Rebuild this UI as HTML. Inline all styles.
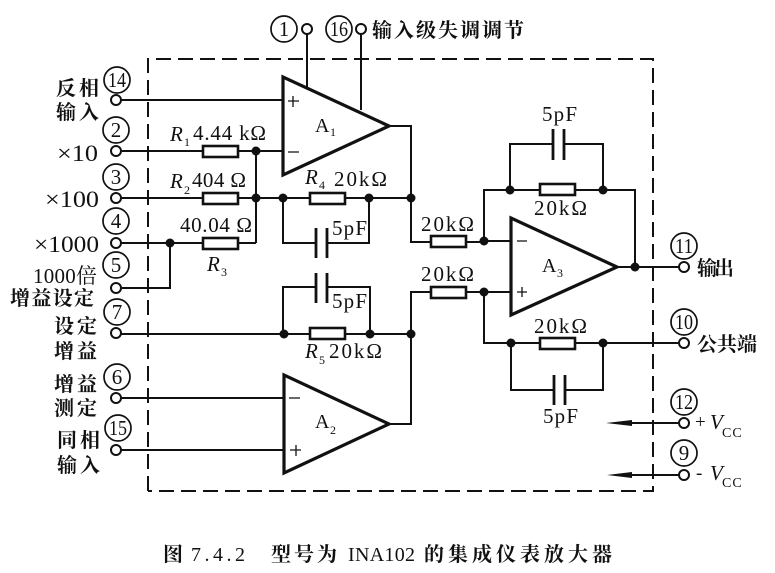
<!DOCTYPE html>
<html><head><meta charset="utf-8">
<style>
html,body{margin:0;padding:0;background:#fff;width:775px;height:573px;overflow:hidden}
svg{display:block}
text{font-family:"Liberation Serif","Noto Serif CJK SC",serif;fill:#111}
.w{fill:none;stroke:#111;stroke-width:2}
.t{fill:#fff;stroke:#111;stroke-width:2}
.r{fill:#fff;stroke:#111;stroke-width:2.6}
.o{fill:#fff;stroke:#111;stroke-width:3.2}
.c{fill:none;stroke:#111;stroke-width:1.7}
.p{stroke:#111;stroke-width:2.8}
.n{font-size:21px;text-anchor:middle}
.z{font-size:20px;font-weight:bold;letter-spacing:3px}
.i{font-style:italic}
.v{font-size:21px}
.x{font-size:23px}
.s{font-size:12px}
</style></head><body>
<svg width="775" height="573" viewBox="0 0 775 573" xmlns="http://www.w3.org/2000/svg">
<path d="M148 491V59H653V491H148" fill="none" stroke="#111" stroke-width="2" stroke-dasharray="15 7"/>
<g class="w">
<path d="M116 100H283M116 151H283M256 151V243M116 198H411M116 243H256M116 288H170V243"/>
<path d="M283 198V243H316M327 243H369V198M283 334V287H316M327 287H370V334"/>
<path d="M116 334H411M389 126H411V242H484V190H635V267M617 267H684M484 241H510"/>
<path d="M510 190V144H553M564 144H603V190"/>
<path d="M389 424H411V292H510M484 292V343H684M511 343V390H554M565 390H603V343"/>
<path d="M116 398H284M116 450H284M307 29V88M361 29V110M684 423H625M684 475H625"/>
</g>
<path d="M606 423L632 420V426ZM607 475L632 472V478Z" fill="#111"/>
<g class="o">
<path d="M283 77V175L389 126Z"/><path d="M284 375V473L389 424Z"/><path d="M511 218V315L617 267Z"/>
</g>
<g class="r">
<rect x="203" y="146" width="35" height="11"/><rect x="203" y="193" width="35" height="11"/><rect x="203" y="238" width="35" height="11"/>
<rect x="310" y="193" width="35" height="11"/><rect x="310" y="328" width="35" height="11"/>
<rect x="431" y="236" width="35" height="11"/><rect x="431" y="287" width="35" height="11"/>
<rect x="540" y="184" width="35" height="11"/><rect x="540" y="338" width="35" height="11"/>
</g>
<g class="p">
<path d="M316 228V258M327 228V258M316 273V303M327 273V303M553 129V160M564 129V160M554 375V405M565 375V405"/>
</g>
<g fill="#111">
<circle cx="256" cy="151" r="4.5"/><circle cx="256" cy="198" r="4.5"/><circle cx="283" cy="198" r="4.5"/><circle cx="369" cy="198" r="4.5"/><circle cx="170" cy="243" r="4.5"/>
<circle cx="284" cy="334" r="4.5"/><circle cx="370" cy="334" r="4.5"/><circle cx="411" cy="198" r="4.5"/><circle cx="411" cy="334" r="4.5"/>
<circle cx="484" cy="241" r="4.5"/><circle cx="484" cy="292" r="4.5"/><circle cx="510" cy="190" r="4.5"/><circle cx="603" cy="190" r="4.5"/>
<circle cx="635" cy="267" r="4.5"/><circle cx="511" cy="343" r="4.5"/><circle cx="603" cy="343" r="4.5"/>
</g>
<g class="t">
<circle cx="116" cy="100" r="5"/><circle cx="116" cy="151" r="5"/><circle cx="116" cy="198" r="5"/><circle cx="116" cy="243" r="5"/><circle cx="116" cy="288" r="5"/><circle cx="116" cy="333" r="5"/><circle cx="116" cy="398" r="5"/><circle cx="116" cy="450" r="5"/>
<circle cx="307" cy="29" r="5"/><circle cx="361" cy="29" r="5"/><circle cx="684" cy="267" r="5"/><circle cx="684" cy="343" r="5"/><circle cx="684" cy="423" r="5"/><circle cx="684" cy="475" r="5"/>
</g>
<g class="c">
<circle cx="284" cy="29" r="13"/><circle cx="339" cy="29" r="13"/><circle cx="117" cy="80" r="13"/><circle cx="116" cy="130" r="13"/><circle cx="116" cy="177" r="13"/><circle cx="116" cy="221" r="13"/><circle cx="116" cy="265" r="13"/><circle cx="117" cy="312" r="13"/><circle cx="117" cy="377" r="13"/><circle cx="118" cy="428" r="13"/><circle cx="684" cy="246" r="13"/><circle cx="684" cy="322" r="13"/><circle cx="684" cy="402" r="13"/><circle cx="684" cy="453" r="13"/>
</g>
<g class="n">
<text x="284" y="36">1</text><text x="339" y="36" textLength="18" lengthAdjust="spacingAndGlyphs">16</text><text x="117" y="87" textLength="18" lengthAdjust="spacingAndGlyphs">14</text><text x="116" y="137">2</text><text x="116" y="184">3</text><text x="116" y="228">4</text><text x="116" y="272">5</text><text x="117" y="319">7</text><text x="117" y="384">6</text><text x="118" y="435" textLength="18" lengthAdjust="spacingAndGlyphs">15</text><text x="684" y="253" textLength="18" lengthAdjust="spacingAndGlyphs">11</text><text x="684" y="329" textLength="18" lengthAdjust="spacingAndGlyphs">10</text><text x="684" y="409" textLength="18" lengthAdjust="spacingAndGlyphs">12</text><text x="684" y="460">9</text>
</g>
<g class="z">
<text x="372" y="37" textLength="155">输入级失调调节</text>
<text x="56" y="95">反相</text><text x="56" y="119">输入</text>
<text x="54" y="333">设定</text><text x="54" y="358">增益</text>
<text x="54" y="391">增益</text><text x="54" y="415">测定</text>
<text x="57" y="447">同相</text><text x="57" y="472">输入</text>
<text x="697" y="275" textLength="40">输出</text><text x="697" y="351" textLength="63">公共端</text>
<text x="10" y="305" textLength="87">增益设定</text>
</g>
<text x="33" y="283" font-size="21" textLength="64">1000倍</text>
<g class="x">
<text x="57" y="161" textLength="41" lengthAdjust="spacingAndGlyphs">×10</text><text x="45" y="207" textLength="54" lengthAdjust="spacingAndGlyphs">×100</text><text x="34" y="252" textLength="65" lengthAdjust="spacingAndGlyphs">×1000</text>
</g>
<g class="v">
<text x="170" y="141" class="i">R</text><text x="184" y="146" class="s">1</text><text x="193" y="140" textLength="73">4.44 kΩ</text>
<text x="170" y="188" class="i">R</text><text x="184" y="194" class="s">2</text><text x="192" y="187" textLength="54">404 Ω</text>
<text x="180" y="232" textLength="72">40.04 Ω</text>
<text x="207" y="271" class="i">R</text><text x="221" y="276" class="s">3</text>
<text x="305" y="184" class="i">R</text><text x="319" y="189" class="s">4</text><text x="334" y="186" textLength="53">20kΩ</text>
<text x="332" y="235" textLength="35">5pF</text><text x="332" y="308" textLength="35">5pF</text>
<text x="305" y="358" class="i">R</text><text x="319" y="364" class="s">5</text><text x="329" y="358" textLength="53">20kΩ</text>
<text x="421" y="231" textLength="53">20kΩ</text><text x="421" y="281" textLength="53">20kΩ</text>
<text x="542" y="121" textLength="35">5pF</text><text x="534" y="215" textLength="53">20kΩ</text>
<text x="534" y="333" textLength="53">20kΩ</text><text x="543" y="423" textLength="35">5pF</text>
</g>
<text x="315" y="132" font-size="20">A</text><text x="330" y="136" font-size="12">1</text>
<text x="315" y="428" font-size="20">A</text><text x="330" y="434" font-size="12">2</text>
<text x="542" y="272" font-size="20">A</text><text x="557" y="277" font-size="12">3</text>
<g class="w" style="stroke-width:1.3">
<path d="M288 101H299M293 96V107M288 152H299M289 398H300M290 450H301M296 445V456M517 241H527M517 292H527M522 287V297"/>
</g>
<text x="695" y="428" font-size="19">+</text><text x="710" y="429" font-size="21" class="i">V</text><text x="722" y="437" font-size="14" letter-spacing="1">CC</text>
<text x="696" y="479" font-size="19">-</text><text x="710" y="480" font-size="21" class="i">V</text><text x="722" y="487" font-size="14" letter-spacing="1">CC</text>
<g font-size="20" font-weight="bold">
<text x="163" y="561">图</text>
<text x="191" y="561" textLength="54" font-weight="normal">7.4.2</text>
<text x="271" y="561" textLength="66">型号为</text>
<text x="348" y="561" textLength="67" font-weight="normal">INA102</text>
<text x="424" y="561" textLength="188">的集成仪表放大器</text>
</g>
</svg>
</body></html>
